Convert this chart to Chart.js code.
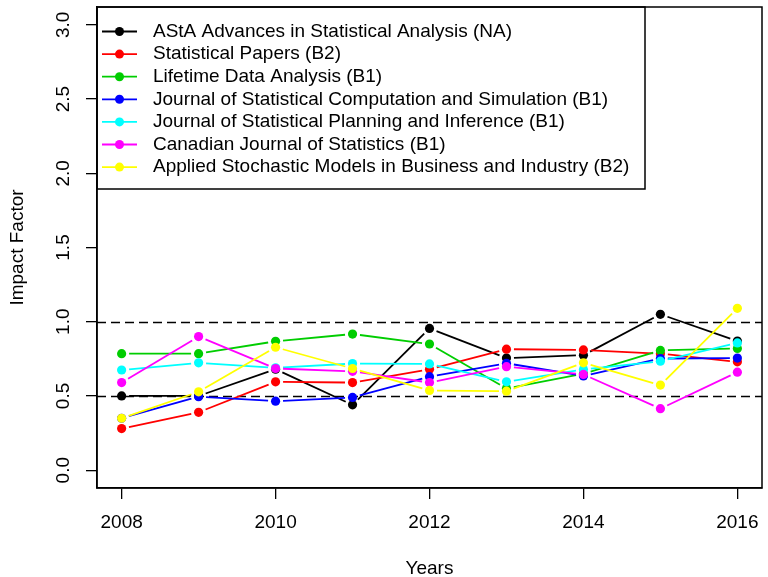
<!DOCTYPE html>
<html>
<head>
<meta charset="utf-8">
<script src="https://cdn.jsdelivr.net/npm/chart.js@4.4.1/dist/chart.umd.min.js"></script>
<style>
  html, body { margin: 0; padding: 0; background: #fff; }
  #wrap { width: 768px; height: 577px; position: relative; }
</style>
</head>
<body>
<div id="wrap"><canvas id="c"></canvas></div>
<script>
// data
const years = [2008, 2009, 2010, 2011, 2012, 2013, 2014, 2015, 2016];
const journals = [
  'AStA Advances in Statistical Analysis (NA)',
  'Statistical Papers (B2)',
  'Lifetime Data Analysis (B1)',
  'Journal of Statistical Computation and Simulation (B1)',
  'Journal of Statistical Planning and Inference (B1)',
  'Canadian Journal of Statistics (B1)',
  'Applied Stochastic Models in Business and Industry (B2)'
];
const colors = ['#000000', '#ff0000', '#00cd00', '#0000ff', '#00ffff', '#ff00ff', '#ffff00'];
const asta      = [0.50, 0.50, 0.68, 0.44, 0.955, 0.755, 0.775, 1.05, 0.87];
const statPap   = [0.28, 0.39, 0.595, 0.59, 0.68, 0.815, 0.81, 0.785, 0.73];
const lifetime  = [0.785, 0.785, 0.868, 0.917, 0.85, 0.55, 0.65, 0.807, 0.82];
const jscs      = [0.35, 0.495, 0.465, 0.49, 0.63, 0.72, 0.635, 0.752, 0.755];
const jspi      = [0.675, 0.723, 0.69, 0.718, 0.716, 0.595, 0.678, 0.734, 0.857];
const cjs       = [0.59, 0.90, 0.685, 0.666, 0.59, 0.697, 0.645, 0.414, 0.66];
const asmbi     = [0.35, 0.528, 0.828, 0.685, 0.537, 0.532, 0.723, 0.573, 1.09];
const series = [asta, statPap, lifetime, jscs, jspi, cjs, asmbi];

const xTicks = [2008, 2010, 2012, 2014, 2016];
const yTicks = [0, 0.5, 1, 1.5, 2, 2.5, 3];
const yTickLabels = ['0.0', '0.5', '1.0', '1.5', '2.0', '2.5', '3.0'];
const refLines = [0.5, 1.0];

const FONT = '"Liberation Sans", Helvetica, Arial, sans-serif';

// R style type="b": line segments stop short of the points
const rStyle = {
  id: 'rStyle',
  beforeDatasetsDraw(chart) {
    const { ctx, chartArea: a, scales: { y } } = chart;
    ctx.save();
    ctx.strokeStyle = '#000';
    ctx.lineWidth = 1.7;
    ctx.setLineDash([9, 5]);
    refLines.forEach(v => {
      const py = Math.round(y.getPixelForValue(v)) + 0.5;
      ctx.beginPath(); ctx.moveTo(a.left, py); ctx.lineTo(a.right, py); ctx.stroke();
    });
    ctx.restore();
  },
  beforeDatasetDraw(chart, args) {
    const { ctx } = chart;
    const pts = args.meta.data;
    const gap = 7.5;
    ctx.save();
    ctx.strokeStyle = colors[args.index];
    ctx.lineWidth = 1.8;
    for (let i = 0; i < pts.length - 1; i++) {
      const p0 = pts[i], p1 = pts[i + 1];
      const dx = p1.x - p0.x, dy = p1.y - p0.y;
      const len = Math.hypot(dx, dy);
      if (len <= 2 * gap) continue;
      const ux = dx / len, uy = dy / len;
      ctx.beginPath();
      ctx.moveTo(p0.x + ux * gap, p0.y + uy * gap);
      ctx.lineTo(p1.x - ux * gap, p1.y - uy * gap);
      ctx.stroke();
    }
    ctx.restore();
  },
  afterDraw(chart) {
    const { ctx, chartArea: a, scales: { y } } = chart;
    ctx.save();
    // plot box
    ctx.strokeStyle = '#000';
    ctx.lineWidth = 1.5;
    ctx.strokeRect(a.left, a.top, a.right - a.left, a.bottom - a.top);

    ctx.fillStyle = '#000';
    ctx.font = '19px ' + FONT;
    ctx.textAlign = 'center';
    ctx.textBaseline = 'middle';
    // rotated y tick labels
    yTicks.forEach((v, i) => {
      ctx.save();
      ctx.translate(64, y.getPixelForValue(v));
      ctx.rotate(-Math.PI / 2);
      ctx.fillText(yTickLabels[i], 0, 0);
      ctx.restore();
    });
    // axis titles
    ctx.fillText('Years', (a.left + a.right) / 2, 569);
    ctx.save();
    ctx.translate(18, (a.top + a.bottom) / 2);
    ctx.rotate(-Math.PI / 2);
    ctx.fillText('Impact Factor', 0, 0);
    ctx.restore();

    // legend box
    const lx = a.left, ly = a.top, lw = 548, lh = 182;
    ctx.strokeRect(lx, ly, lw, lh);
    ctx.textAlign = 'left';
    journals.forEach((name, i) => {
      const ry = ly + 24.5 + i * 22.6;
      ctx.strokeStyle = colors[i];
      ctx.lineWidth = 1.8;
      ctx.beginPath(); ctx.moveTo(lx + 5, ry); ctx.lineTo(lx + 40, ry); ctx.stroke();
      ctx.fillStyle = colors[i];
      ctx.beginPath(); ctx.arc(lx + 22.5, ry, 4.5, 0, Math.PI * 2); ctx.fill();
      ctx.fillStyle = '#000';
      ctx.fillText(name, lx + 56, ry);
    });
    ctx.restore();
  }
};

new Chart(document.getElementById('c'), {
  type: 'line',
  data: {
    datasets: series.map((vals, i) => ({
      label: journals[i],
      data: years.map((yr, j) => ({ x: yr, y: vals[j] })),
      showLine: false,
      pointRadius: 4.6,
      pointHoverRadius: 4.6,
      pointBorderWidth: 0,
      pointBackgroundColor: colors[i],
      borderColor: colors[i],
      order: series.length - i
    }))
  },
  options: {
    responsive: true,
    maintainAspectRatio: false,
    animation: false,
    layout: { padding: { top: 7, right: 6, left: 0, bottom: 0 } },
    plugins: { legend: { display: false }, tooltip: { enabled: false } },
    scales: {
      x: {
        type: 'linear', min: 2007.68, max: 2016.32,
        afterBuildTicks: s => { s.ticks = xTicks.map(v => ({ value: v })); },
        afterFit: s => { s.height = 89; s.paddingLeft = 0; s.paddingRight = 0; },
        ticks: { color: '#000', font: { family: FONT, size: 19 }, padding: 12, maxRotation: 0, autoSkip: false,
                 callback: v => String(v) },
        grid: { drawOnChartArea: false, drawTicks: true, tickLength: 11, color: '#000', lineWidth: 1.3 },
        border: { display: true, color: '#000', width: 1.5 }
      },
      y: {
        type: 'linear', min: -0.12, max: 3.12,
        afterBuildTicks: s => { s.ticks = yTicks.map(v => ({ value: v })); },
        afterFit: s => { s.width = 97; s.paddingTop = 0; s.paddingBottom = 0; },
        ticks: { display: false },
        grid: { drawOnChartArea: false, drawTicks: true, tickLength: 11, color: '#000', lineWidth: 1.3 },
        border: { display: true, color: '#000', width: 1.5 }
      }
    }
  },
  plugins: [rStyle]
});
</script>
</body>
</html>
